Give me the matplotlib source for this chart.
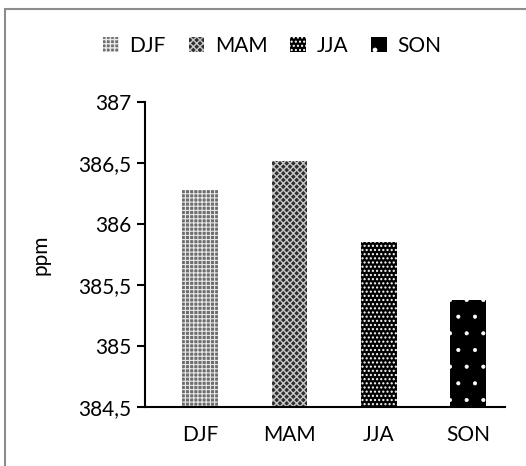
import matplotlib.pyplot as plt
from matplotlib.patches import Rectangle

plt.rcParams['font.family'] = ['Lato', 'DejaVu Sans']

seasons = ["DJF", "MAM", "JJA", "SON"]
co2_ppm = [386.28, 386.52, 385.85, 385.38]
yticks = [384.5, 385, 385.5, 386, 386.5, 387]
ytick_labels = ["384,5", "385", "385,5", "386", "386,5", "387"]

# fill pattern per season: (face, hatch colour, hatch, hatch width)
styles = [
    ("#6e6e6e", "#e8e8e8", "++++", 0.8),
    ("#2e2e2e", "#c8c8c8", "xxxxx", 1.0),
    ("black", "white", "....", 1.0),
    ("black", "white", ".", 0.5),
]

fig = plt.figure(figsize=(5.26, 4.66), dpi=100)
ax = fig.add_axes([0.2757, 0.1266, 0.685, 0.6545])

x = range(len(seasons))
for i, (s, v) in enumerate(zip(seasons, co2_ppm)):
    face, hcol, hatch, hlw = styles[i]
    with plt.rc_context({'hatch.linewidth': hlw}):
        ax.bar(i, v - 384.5, bottom=384.5, width=0.4, color=face,
               edgecolor=hcol, hatch=hatch, linewidth=0, label=s)

ax.set_xlim(-0.62, 3.42)
ax.set_ylim(384.5, 387)
ax.set_yticks(yticks)
ax.set_yticklabels(ytick_labels, fontsize=15)
ax.set_xticks(list(x))
ax.set_xticklabels(seasons, fontsize=15)
ax.tick_params(axis='y', length=6, width=1.5, pad=4)
ax.tick_params(axis='x', length=0, pad=13)
ax.set_ylabel("ppm", fontsize=15, labelpad=20)
for side in ["top", "right"]:
    ax.spines[side].set_visible(False)
ax.spines["left"].set_linewidth(1.5)
ax.spines["bottom"].set_linewidth(1.5)

ax.legend(loc="center", bbox_to_anchor=(0.353, 1.185), ncol=4, frameon=False,
          fontsize=15, handlelength=0.75, handleheight=0.75, handletextpad=0.5,
          columnspacing=1.1)

# light grey frame around the chart
fig.patches.append(Rectangle((5 / 526, -0.1), 1.2, 1.1 - 9 / 466,
                             transform=fig.transFigure, fill=False,
                             edgecolor="#8c8c8c", linewidth=1.5))

fig.savefig("out.png", dpi=100)
